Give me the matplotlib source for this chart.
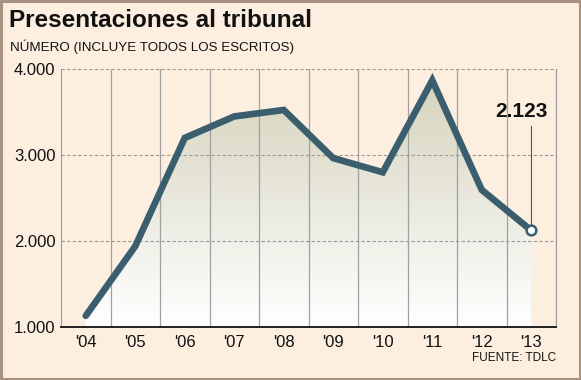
import numpy as np
import matplotlib.pyplot as plt
from matplotlib.patches import Rectangle, Polygon

years = ["'04", "'05", "'06", "'07", "'08", "'09", "'10", "'11", "'12", "'13"]
values = [1130, 1940, 3200, 3450, 3525, 2965, 2800, 3870, 2595, 2123]
last_label = "2.123"

bg = "#fcefdf"
line_col = "#3b5e6e"
fam = ["Liberation Sans Narrow", "Liberation Sans", "DejaVu Sans"]

fig = plt.figure(figsize=(5.81, 3.8), dpi=100, facecolor=bg)
fig.patches.append(Rectangle((0.002, 0.003), 0.996, 0.994, transform=fig.transFigure,
                             fill=False, edgecolor="#a89383", linewidth=2.2))

ax = fig.add_axes([0.105, 0.1395, 0.852, 0.6785])
ax.set_facecolor(bg)
x = np.arange(len(years))
ax.set_xlim(-0.5, len(years) - 0.5)
ax.set_ylim(1000, 4000)

# gradient fill under the line
poly = Polygon(np.column_stack([np.r_[x, x[::-1][[0, -1]]],
                                np.r_[values, 1000, 1000]]),
               closed=True, facecolor="none", edgecolor="none")
ax.add_patch(poly)
grad = np.linspace(0, 1, 256).reshape(-1, 1)
top = np.array([0.83, 0.82, 0.73])
bot = np.array([1.0, 1.0, 1.0])
img = top[None, None, :] * (1 - grad[..., None]) + bot[None, None, :] * grad[..., None]
img = img[::-1]
im = ax.imshow(img, extent=[x[0], x[-1], 1000, 4000], aspect="auto", origin="lower",
               zorder=1)
im.set_clip_path(poly)

# grid
for v in np.arange(-0.5, len(years), 1.0)[1:]:
    ax.axvline(v, color="#a0a0a0", lw=0.9, zorder=2)
for v in [2000, 3000, 4000]:
    ax.axhline(v, color="#999999", lw=0.8, ls=(0, (3, 2)), zorder=2)

ax.plot(x, values, color=line_col, lw=4.8, solid_capstyle="round",
        solid_joinstyle="miter", zorder=4)
ax.plot(x[-1], values[-1], "o", ms=7, mfc="white", mec=line_col, mew=1.8, zorder=5)
ax.plot([x[-1], x[-1]], [values[-1] + 60, 3340], color="#555555", lw=0.8, zorder=3)
ax.text(x[-1] - 0.2, 3400, last_label, ha="center", va="bottom", fontsize=15,
        fontweight="bold", color="#111111", zorder=6, family=fam)

ax.spines["top"].set_visible(False)
ax.spines["left"].set_color("#999999")
ax.spines["right"].set_color("#999999")
ax.spines["bottom"].set_color("#111111")
ax.spines["bottom"].set_linewidth(1.3)

ax.set_xticks(x)
ax.set_xticklabels(years, fontsize=12, family=fam)
ax.set_yticks([1000, 2000, 3000, 4000])
ax.set_yticklabels(["1.000", "2.000", "3.000", "4.000"], fontsize=12, family=fam)
ax.tick_params(length=0, pad=6, colors="#111111")
ax.tick_params(axis="y", pad=4)

fig.text(0.015, 0.945, "Presentaciones al tribunal", fontsize=17.5, fontweight="bold",
         color="#111111", va="center", ha="left", family=fam)
fig.text(0.017, 0.877, "NÚMERO (INCLUYE TODOS LOS ESCRITOS)", fontsize=9.6,
         color="#111111", va="center", ha="left", family=fam)
fig.text(0.957, 0.058, "FUENTE: TDLC", fontsize=8.5, color="#111111",
         va="center", ha="right", family=fam)

fig.savefig("out.png", dpi=100, facecolor=bg)
